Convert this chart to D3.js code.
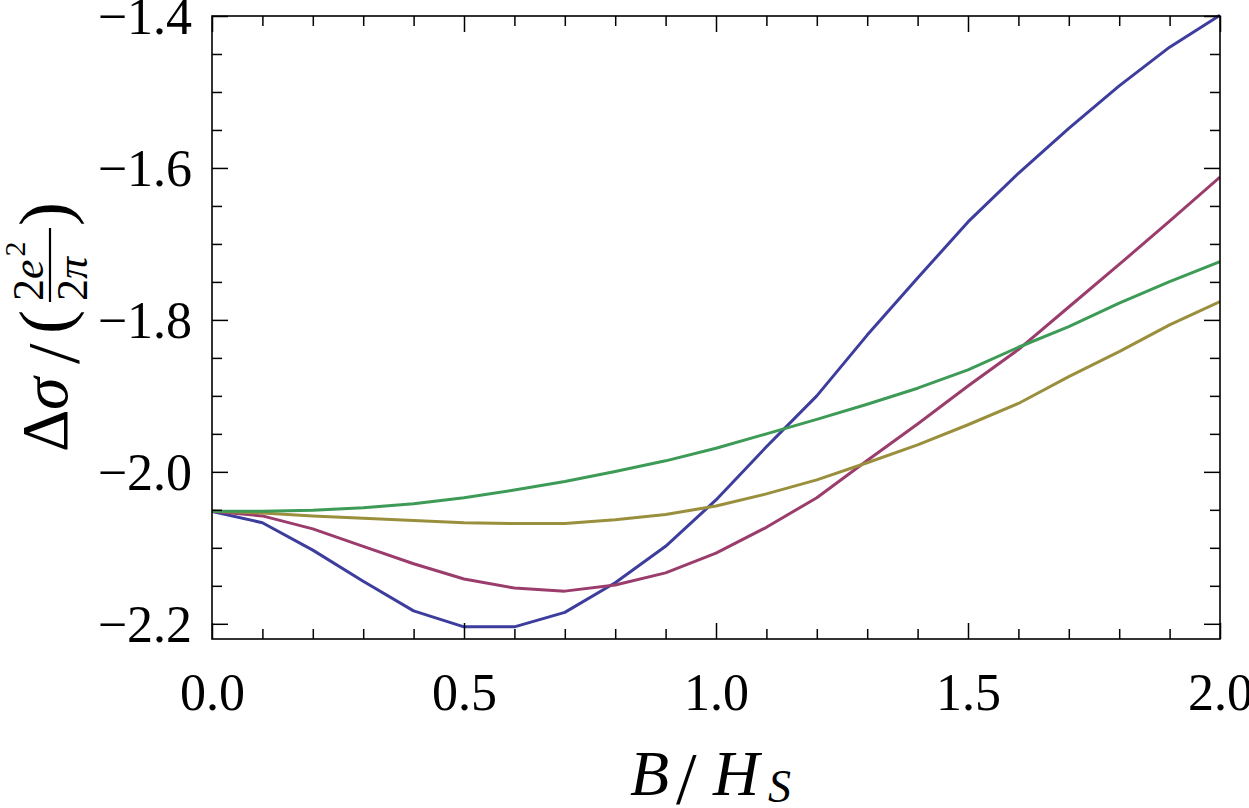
<!DOCTYPE html>
<html>
<head>
<meta charset="utf-8">
<script src="https://cdn.jsdelivr.net/npm/d3@7"></script>
<style>
  html, body { margin: 0; padding: 0; background: #fff; }
  svg { display: block; }
  text { font-family: "Liberation Serif", "Times New Roman", serif; fill: #000; }
</style>
</head>
<body>
<svg id="chart" width="1249" height="808"></svg>
<script>
// ---- data ----
const bValues = [0.0, 0.1, 0.2, 0.3, 0.4, 0.5, 0.6, 0.7, 0.8, 0.9, 1.0,
                 1.1, 1.2, 1.3, 1.4, 1.5, 1.6, 1.7, 1.8, 1.9, 2.0];
const seriesBlue = [-2.052, -2.067, -2.103, -2.144, -2.183, -2.204, -2.204, -2.185, -2.146, -2.098, -2.037,
                    -1.967, -1.900, -1.820, -1.745, -1.671, -1.607, -1.548, -1.492, -1.441, -1.399];
const seriesMagenta = [-2.052, -2.058, -2.075, -2.098, -2.121, -2.141, -2.153, -2.157, -2.149, -2.133, -2.107,
                       -2.073, -2.034, -1.985, -1.937, -1.887, -1.839, -1.783, -1.727, -1.670, -1.612];
const seriesOlive = [-2.052, -2.054, -2.058, -2.061, -2.064, -2.067, -2.068, -2.068, -2.063, -2.056, -2.045,
                     -2.029, -2.0105, -1.988, -1.9645, -1.938, -1.910, -1.8746, -1.8417, -1.8066, -1.776];
const seriesGreen = [-2.052, -2.0518, -2.0504, -2.0474, -2.042, -2.034, -2.024, -2.0127, -1.9996, -1.9855, -1.9689,
                     -1.950, -1.931, -1.911, -1.8899, -1.8658, -1.836, -1.8088, -1.778, -1.7496, -1.7233];
const seriesNames = ["blue", "magenta", "olive", "green"];
const seriesColors = ["#3d3d9e", "#9b3d6c", "#9a8f3d", "#3d9b57"];

const xMajorTicks = [0, 0.5, 1.0, 1.5, 2.0];
const xTickLabels = ["0.0", "0.5", "1.0", "1.5", "2.0"];
const xMinorTicks = [0.1, 0.2, 0.3, 0.4, 0.6, 0.7, 0.8, 0.9, 1.1, 1.2, 1.3, 1.4, 1.6, 1.7, 1.8, 1.9];
const yMajorTicks = [-2.2, -2.0, -1.8, -1.6, -1.4];
const yTickLabels = ["\u22122.2", "\u22122.0", "\u22121.8", "\u22121.6", "\u22121.4"];
const yMinorTicks = [-2.15, -2.1, -2.05, -1.95, -1.9, -1.85, -1.75, -1.7, -1.65, -1.55, -1.5, -1.45];

// ---- layout ----
const L = 212, R = 1220, T = 16, B = 639;
const svg = d3.select("#chart");
const x = d3.scaleLinear().domain([0, 2]).range([L, R]);
const y = d3.scaleLinear().domain([-2.22, -1.4]).range([B, T]);

// ---- lines ----
const allSeries = [seriesBlue, seriesMagenta, seriesOlive, seriesGreen];
const line = d3.line().x((d, i) => x(bValues[i])).y(d => y(d));
svg.append("clipPath").attr("id", "clip")
  .append("rect").attr("x", L).attr("y", T - 2).attr("width", R - L).attr("height", B - T + 2);
svg.append("g").attr("clip-path", "url(#clip)")
  .selectAll("path").data(allSeries).join("path")
  .attr("d", line)
  .attr("fill", "none")
  .attr("stroke", (d, i) => seriesColors[i])
  .attr("stroke-width", 3)
  .attr("stroke-linejoin", "round");

// ---- axes ----
function styleAxis(g) {
  g.select(".domain").remove();
  g.selectAll(".tick line").attr("stroke", "#000").attr("stroke-width", 1.5);
}
const fmtX = (d) => xTickLabels[xMajorTicks.indexOf(d)];
const fmtY = (d) => yTickLabels[yMajorTicks.indexOf(d)];

// bottom
const gB = svg.append("g").attr("transform", `translate(0,${B})`)
  .call(d3.axisBottom(x).tickValues(xMajorTicks).tickSizeInner(-16).tickSizeOuter(0).tickFormat(fmtX));
styleAxis(gB);
gB.selectAll("text").attr("y", 71).attr("dy", null).attr("font-size", 52)
  .attr("font-family", "Liberation Serif");
svg.append("g").attr("transform", `translate(0,${B})`)
  .call(d3.axisBottom(x).tickValues(xMinorTicks).tickSizeInner(-10).tickSizeOuter(0).tickFormat(""))
  .call(styleAxis);
// top
svg.append("g").attr("transform", `translate(0,${T})`)
  .call(d3.axisTop(x).tickValues(xMajorTicks).tickSizeInner(-16).tickSizeOuter(0).tickFormat(""))
  .call(styleAxis);
svg.append("g").attr("transform", `translate(0,${T})`)
  .call(d3.axisTop(x).tickValues(xMinorTicks).tickSizeInner(-10).tickSizeOuter(0).tickFormat(""))
  .call(styleAxis);
// left
const gL = svg.append("g").attr("transform", `translate(${L},0)`)
  .call(d3.axisLeft(y).tickValues(yMajorTicks).tickSizeInner(-16).tickSizeOuter(0).tickFormat(fmtY));
styleAxis(gL);
gL.selectAll("text").attr("x", -20).attr("dy", "0.34em").attr("font-size", 52)
  .attr("font-family", "Liberation Serif");
svg.append("g").attr("transform", `translate(${L},0)`)
  .call(d3.axisLeft(y).tickValues(yMinorTicks).tickSizeInner(-10).tickSizeOuter(0).tickFormat(""))
  .call(styleAxis);
// right
svg.append("g").attr("transform", `translate(${R},0)`)
  .call(d3.axisRight(y).tickValues(yMajorTicks).tickSizeInner(-16).tickSizeOuter(0).tickFormat(""))
  .call(styleAxis);
svg.append("g").attr("transform", `translate(${R},0)`)
  .call(d3.axisRight(y).tickValues(yMinorTicks).tickSizeInner(-10).tickSizeOuter(0).tickFormat(""))
  .call(styleAxis);

// frame
svg.append("rect").attr("x", L).attr("y", T).attr("width", R - L).attr("height", B - T)
  .attr("fill", "none").attr("stroke", "#000").attr("stroke-width", 1.6);

// ---- x axis title: B/H_S ----
const xt = svg.append("g");
xt.append("text").attr("x", 630).attr("y", 795).attr("font-size", 64).attr("font-style", "italic").text("B");
xt.append("text").attr("x", 676).attr("y", 804).attr("font-size", 74).text("/");
xt.append("text").attr("x", 713).attr("y", 795).attr("font-size", 64).attr("font-style", "italic").text("H");
xt.append("text").attr("x", 768).attr("y", 802).attr("font-size", 46).attr("font-style", "italic").text("S");

// ---- y axis title: Δσ/(2e²/2π) ----
const yt = svg.append("g").attr("transform", "translate(67,452) rotate(-90)");
yt.append("text").attr("x", 0).attr("y", 0).attr("font-size", 66).text("\u0394");
yt.append("text").attr("x", 42).attr("y", 0).attr("font-size", 66).attr("font-style", "italic").text("\u03c3");
yt.append("text").attr("x", 88).attr("y", 12).attr("font-size", 74).text("/");
yt.append("text").attr("x", 118).attr("y", 2).attr("font-size", 72).text("(");
yt.append("line").attr("x1", 150).attr("x2", 224).attr("y1", -17).attr("y2", -17)
  .attr("stroke", "#000").attr("stroke-width", 2.2);
const num = yt.append("text").attr("x", 151).attr("y", -24).attr("font-size", 44);
num.append("tspan").text("2");
num.append("tspan").attr("font-style", "italic").text("e");
num.append("tspan").attr("font-size", 30).attr("dy", -18).attr("dx", 3).text("2");
const den = yt.append("text").attr("x", 151).attr("y", 20).attr("font-size", 44);
den.append("tspan").text("2");
den.append("tspan").attr("font-style", "italic").text("\u03c0");
yt.append("text").attr("x", 226).attr("y", 2).attr("font-size", 72).text(")");
</script>
</body>
</html>
